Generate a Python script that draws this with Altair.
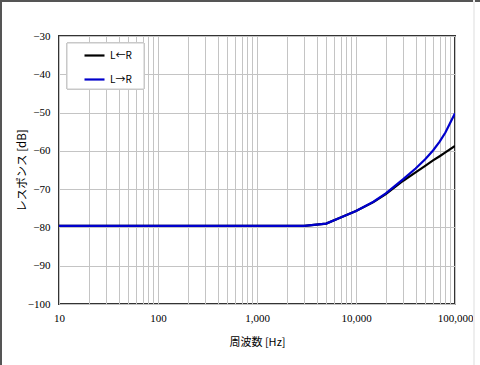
import altair as alt
import pandas as pd

freq = [10, 20, 50, 100, 200, 500, 1000, 2000, 3000, 5000, 7000, 10000,
        15000, 20000, 30000, 40000, 50000, 60000, 70000, 80000, 100000]
lr_back = [-79.6, -79.6, -79.6, -79.6, -79.6, -79.6, -79.6, -79.6, -79.6, -79.0, -77.4, -75.7,
           -73.4, -71.3, -67.8, -65.6, -63.9, -62.5, -61.4, -60.4, -58.7]
lr_fwd = [-79.6, -79.6, -79.6, -79.6, -79.6, -79.6, -79.6, -79.6, -79.6, -79.0, -77.4, -75.7,
          -73.3, -71.1, -67.4, -64.6, -62.2, -59.9, -57.6, -55.2, -50.2]
series_names = ["L←R", "L→R"]
series_colors = ["#000000", "#0000cc"]

y_ticks = [-100, -90, -80, -70, -60, -50, -40, -30]
x_grid = [10, 20, 30, 40, 50, 60, 70, 80, 90,
          100, 200, 300, 400, 500, 600, 700, 800, 900,
          1000, 2000, 3000, 4000, 5000, 6000, 7000, 8000, 9000,
          10000, 20000, 30000, 40000, 50000, 60000, 70000, 80000, 90000, 100000]

df = pd.concat([
    pd.DataFrame({"freq": freq, "val": lr_back, "series": series_names[0], "order": 0}),
    pd.DataFrame({"freq": freq, "val": lr_fwd, "series": series_names[1], "order": 1}),
])

serif = "Times New Roman, Liberation Serif, DejaVu Serif, serif"
jp = "Noto Sans CJK JP"

x_enc = alt.X("freq:Q",
              scale=alt.Scale(type="log", domain=[10, 100000], nice=False),
              axis=alt.Axis(values=x_grid,
                            labelExpr="indexof([10,100,1000,10000,100000], datum.value) >= 0 ? format(datum.value, ',') : ''",
                            ticks=False, labelPadding=8, labelFont=serif, labelFontSize=11,
                            labelColor="#000000", labelFlush=False, labelOverlap=False,
                            gridColor="#c4c4c4", gridWidth=1, domain=False,
                            title="周波数 [Hz]", titleFont=jp, titleFontSize=11,
                            titleFontWeight="normal", titleColor="#000000", titlePadding=13))
y_enc = alt.Y("val:Q",
              scale=alt.Scale(domain=[-100, -30], nice=False, zero=False),
              axis=alt.Axis(values=y_ticks, ticks=False, labelPadding=9, labelFont=serif,
                            labelFontSize=11, labelColor="#000000",
                            gridColor="#c4c4c4", gridWidth=1, domain=False,
                            title="レスポンス [dB]", titleFont=jp, titleFontSize=11.5,
                            titleFontWeight="normal", titleColor="#000000",
                            titleX=-37, titleY=134, titleAngle=270,
                            titleAlign="center", titleBaseline="middle"))

legend_box = alt.Chart(df).mark_rect(fill="#ffffff", stroke="#c8c8c8", strokeWidth=1,
                                     clip=False).encode(
    x=alt.value(8), x2=alt.value(85), y=alt.value(7), y2=alt.value(53))

lines = alt.Chart(df).mark_line(strokeWidth=2.2, clip=True).encode(
    x=x_enc,
    y=y_enc,
    color=alt.Color("series:N",
                    scale=alt.Scale(domain=series_names, range=series_colors),
                    legend=alt.Legend(orient="none", legendX=8, legendY=7, title=None,
                                      symbolType="stroke", symbolSize=400,
                                      symbolStrokeWidth=2.2, symbolOffset=15,
                                      labelFont=jp, labelFontSize=10,
                                      labelColor="#000000", labelOffset=4,
                                      padding=1, rowPadding=7)),
    order="order:Q",
)

frame_top = alt.Chart(df).mark_rule(color="#555555", strokeWidth=2, clip=False).encode(
    x=alt.value(-59), x2=alt.value(421), y=alt.value(-35))
frame_left = alt.Chart(df).mark_rule(color="#555555", strokeWidth=2, clip=False).encode(
    x=alt.value(-58), y=alt.value(-36), y2=alt.value(329))
frame_right = alt.Chart(df).mark_rule(color="#eeeeee", strokeWidth=1.5, clip=False).encode(
    x=alt.value(415), y=alt.value(-36), y2=alt.value(329))

chart = alt.layer(legend_box, lines, frame_top, frame_left, frame_right).properties(
    width=396, height=268,
    autosize=alt.AutoSizeParams(type="none"),
    padding={"left": 59, "top": 36, "right": 25, "bottom": 61},
    background="#ffffff",
).configure_view(stroke="#333333", strokeWidth=2)

chart.save("out.html", embed_options={"renderer": "svg", "actions": False})
